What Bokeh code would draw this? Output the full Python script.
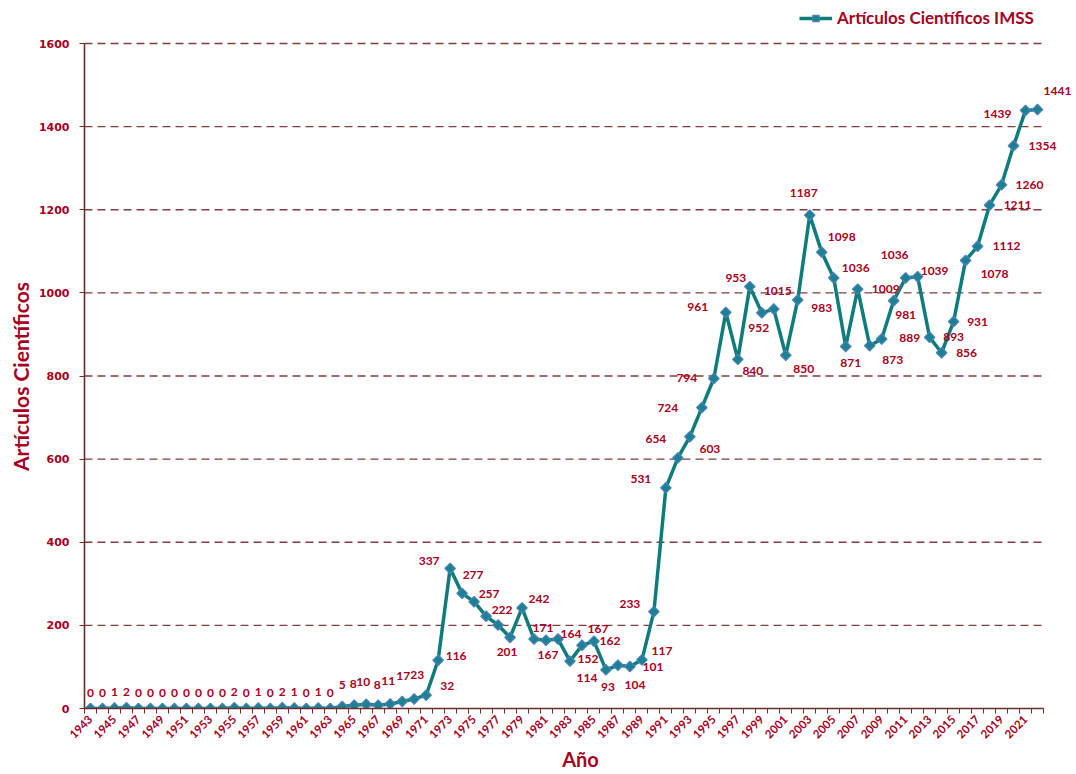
import math
from bokeh.plotting import figure
from bokeh.models import ColumnDataSource, Range1d, FixedTicker, LabelSet, Title
from bokeh.core.properties import value
from bokeh.embed import file_html
from bokeh.resources import INLINE

# ---------------- data ----------------
years = list(range(1943, 2023))
articles = [0, 0, 1, 2, 0, 0, 0, 0, 0, 0, 0, 0, 2, 0, 1, 0, 2, 1, 0, 1, 0,      # 1943-1963
            5, 8, 10, 8, 11, 17, 23, 32, 116,                                   # 1964-1972
            337, 277, 257, 222, 201, 171, 242, 167, 164, 167, 114, 152, 162,
            93, 104, 101, 117, 233,                                             # 1973-1990
            531, 603, 654, 724, 794, 953, 840, 1015, 952, 961, 850, 983,        # 1991-2002
            1187, 1098, 1036, 871, 1009, 873, 889, 981, 1036, 1039, 893, 856,
            931, 1078, 1112, 1211, 1260, 1354, 1439, 1441]                      # 2003-2022
tick_years = list(range(1943, 2022, 2))
y_ticks = [0, 200, 400, 600, 800, 1000, 1200, 1400, 1600]
series_name = "Artículos Científicos IMSS"
x_title = "Año"
y_title = "Artículos Científicos"

# label placement (screen px offsets, down = positive; layout only)
label_dx = [0] * 21 + [0, -1, -3, -1, -2, 1, 3, 21, 18,
            -21, 11, 15, 16, 9, 33, 17, 14, 25, 40, 17, 6, 16, 2, 17, 23, 20, -24,
            -25, 32, -34, -34, -27, 10, 15, 28, -3, -76, 18, 24,
            -6, 20, 22, 5, 28, 23, 28, 12, -11, 17, 24, 25, 24, 29, 29, 28, 28, 29, -28, 20]
label_dy = [-16] * 21 + [-21, -21, -22, -20, -23, -25, -24, -9, -4,
            -7, -18, -8, -6, 27, -9, -9, 16, -6, -10, 17, 14, 0, 17, 20, 0, -9, -8,
            -9, -9, 2, 0, 0, -34, 12, 4, 15, -2, 14, 8,
            -22, -15, -10, 17, 0, 14, -1, 14, -23, -6, 0, 0, 0, 14, 0, 0, 0, 0, 4, -19]

RED = "#A50021"
TEAL = "#0E7C7B"
AXIS = "#6B2C2C"
GRID = "#7E3E3E"

# layout: frame reaches the right and top edges so labels / legend are not clipped
W, H = 1076, 774
LEFT, BOTTOM = 84, 66
PX_PER_YEAR = 959 / 80.0
PX_PER_UNIT = 665 / 1600.0
FRAME_W, FRAME_H = W - LEFT, H - BOTTOM
x0 = years[0] - 0.5
x1 = years[-1] + 0.5
X_END = x0 + FRAME_W / PX_PER_YEAR
Y_TOP = y_ticks[-1]
Y_END = FRAME_H / PX_PER_UNIT

src = ColumnDataSource(dict(x=years, y=articles, txt=[str(v) for v in articles],
                            dx=label_dx, dy=[-d for d in label_dy]))

p = figure(width=W, height=H, output_backend="svg", toolbar_location=None,
           x_range=Range1d(x0, X_END), y_range=Range1d(0, Y_END),
           min_border_left=LEFT, min_border_right=0, min_border_top=0, min_border_bottom=BOTTOM)
p.outline_line_color = None
p.background_fill_color = "white"

# grid (drawn only over the category span)
p.xgrid.grid_line_color = None
p.ygrid.grid_line_color = None
gy = y_ticks[1:]
p.segment(x0=[x0] * len(gy), y0=gy, x1=[x1] * len(gy), y1=gy,
          line_color=GRID, line_dash="8 5", line_width=1.3)

# x axis
xa = p.xaxis[0]
xa.bounds = (x0, x1)
xa.ticker = FixedTicker(ticks=tick_years, minor_ticks=[y - 0.5 for y in range(years[0], years[-1] + 2)])
xa.major_label_overrides = {y: str(y) for y in tick_years}
xa.major_label_orientation = math.pi / 4
xa.major_tick_out = 0
xa.major_tick_in = 0
xa.minor_tick_out = 5
xa.minor_tick_in = 0
xa.minor_tick_line_color = AXIS
xa.axis_line_color = AXIS
xa.axis_line_width = 1.6
xa.major_label_text_font = "Lato"
xa.major_label_text_font_style = "bold"
xa.major_label_text_font_size = "11.5px"
xa.major_label_text_color = RED
xa.major_label_standoff = 4
xa.axis_label = x_title
xa.axis_label_text_font = "Lato"
xa.axis_label_text_font_style = "bold"
xa.axis_label_text_font_size = "20px"
xa.axis_label_text_color = RED
xa.axis_label_standoff = 2

# y axis
ya = p.yaxis[0]
ya.bounds = (0, Y_TOP)
ya.ticker = FixedTicker(ticks=y_ticks)
ya.major_tick_out = 5
ya.major_tick_in = 0
ya.major_tick_line_color = AXIS
ya.minor_tick_line_color = None
ya.axis_line_color = AXIS
ya.axis_line_width = 1.6
ya.major_label_text_font = "DejaVu Sans"
ya.major_label_text_font_style = "bold"
ya.major_label_text_font_size = "11px"
ya.major_label_text_color = RED
ya.major_label_standoff = 10

# y title, centred on the 0..1600 span
title_len = 190
p.add_layout(Title(text=y_title, align="left",
                   offset=Y_TOP * PX_PER_UNIT / 2 - title_len / 2,
                   text_font="Lato", text_font_style="bold", text_font_size="21px",
                   text_color=RED, standoff=6), "left")

# series
p.line("x", "y", source=src, line_color=TEAL, line_width=3.5, legend_label=series_name)
p.scatter("x", "y", source=src, marker="square", angle=math.pi / 4, size=7.5,
          fill_color="#1C8190", line_color="#4F81BD", line_width=1.2, legend_label=series_name)
p.add_layout(LabelSet(x="x", y="y", text="txt", source=src, x_offset="dx", y_offset="dy",
                      text_align="center", text_baseline="middle", text_font=value("Lato"),
                      text_font_style="bold", text_font_size="12px", text_color=RED))

# legend
lg = p.legend[0]
lg.location = (715, FRAME_H - 28)
lg.border_line_color = None
lg.background_fill_alpha = 0
lg.padding = 0
lg.margin = 0
lg.glyph_width = 33
lg.glyph_height = 16
lg.label_height = 16
lg.label_standoff = 5
lg.label_text_font = "Lato"
lg.label_text_font_style = "bold"
lg.label_text_font_size = "17px"
lg.label_text_color = RED

open("out.html", "w").write(file_html(p, INLINE))
